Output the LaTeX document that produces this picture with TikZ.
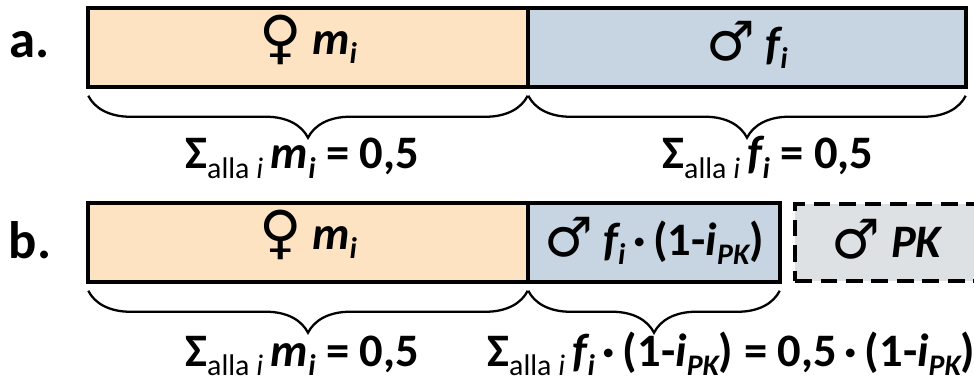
\documentclass[tikz,border=0pt]{standalone}
\usepackage{fontspec}
\setmainfont{Carlito}
\newfontfamily\symfont{DejaVu Sans}
\usetikzlibrary{decorations.pathreplacing}

\definecolor{femfill}{HTML}{FDE3C1}
\definecolor{malfill}{HTML}{C7D5E2}
\definecolor{pkfill}{HTML}{DEE1E3}

\newcommand{\femsym}{\smash{\raisebox{-0.12ex}{\symfont\mdseries\upshape\fontsize{33}{33}\selectfont ♀}}}
\newcommand{\malsym}{\smash{\raisebox{-0.05ex}{\symfont\mdseries\upshape\fontsize{31}{31}\selectfont ♂}}}
\newcommand{\low}[1]{\raisebox{-0.4ex}{\fontsize{17}{17}\selectfont #1}}
\newcommand{\alla}{\low{\mdseries\upshape alla \itshape i}}
\newcommand{\ipk}{{\itshape i}\low{\bfseries\itshape PK}}

\begin{document}
\begin{tikzpicture}[x=0.02cm, y=-0.02cm,
    bar/.style={draw=black, line width=2pt, minimum height=1.58cm,
                inner sep=0pt, font=\fontsize{26.5}{30}\selectfont\bfseries},
    fem/.style={bar, fill=femfill},
    mal/.style={bar, fill=malfill},
    pk/.style={bar, fill=pkfill, dash pattern=on 9.5pt off 5pt},
    brc/.style={decorate, decoration={brace, mirror, amplitude=0.84cm},
                line width=1.3pt},
    eq/.style={inner sep=0pt, font=\fontsize{26.5}{30}\selectfont\bfseries},
    tag/.style={font=\fontsize{30}{34}\selectfont\bfseries}
]
\useasboundingbox (0,0) rectangle (974,385);
\clip (0,0) rectangle (974,385);
% a.
\node[tag] (taga) at (30,45) {a.};
\node[fem, minimum width=8.8cm] (am) at (308,47.5) {\femsym\ {\itshape m}\low{\bfseries\itshape i}};
\node[mal, minimum width=8.76cm] (af) at (747,47.5) {\malsym\ {\itshape f}\low{\bfseries\itshape i}};
\draw[brc] ([xshift=0.04cm, yshift=-0.14cm]am.south west) -- ([xshift=-0.04cm, yshift=-0.14cm]am.south east);
\draw[brc] ([xshift=0.04cm, yshift=-0.14cm]af.south west) -- ([xshift=-0.04cm, yshift=-0.14cm]af.south east);
\node[eq, anchor=base west] (suma) at (185,169) {Σ\alla\,{\itshape m}\low{\bfseries\itshape i} = 0,5};
\node[eq, anchor=base west] (sumaf) at (662,169) {Σ\alla\,{\itshape f}\low{\bfseries\itshape i} = 0,5};
% b.
\node[tag] (tagb) at (30,240) {b.};
\node[fem, minimum width=8.8cm] (bm) at (308,242.5) {\femsym\ {\itshape m}\low{\bfseries\itshape i}};
\node[mal, minimum width=5.04cm] (bf) at (654,242.5) {\malsym\ {\itshape f}\low{\bfseries\itshape i}\,·\,(1-\ipk)};
\node[pk, minimum width=3.66cm, minimum height=1.54cm] (bpk) at (886.5,242.5) {\malsym\ {\itshape PK}};
\draw[brc] ([xshift=0.04cm, yshift=-0.14cm]bm.south west) -- ([xshift=-0.04cm, yshift=-0.14cm]bm.south east);
\draw[brc] ([xshift=0.04cm, yshift=-0.14cm]bf.south west) -- ([xshift=-0.04cm, yshift=-0.14cm]bf.south east);
\node[eq, anchor=base west] (sumb) at (185,366) {Σ\alla\,{\itshape m}\low{\bfseries\itshape i} = 0,5};
\node[eq, anchor=base west] (sumbf) at (487,366) {Σ\alla\,{\itshape f}\low{\bfseries\itshape i}\,·\,(1-\ipk) = 0,5\,·\,(1-\ipk)};
\end{tikzpicture}
\end{document}
